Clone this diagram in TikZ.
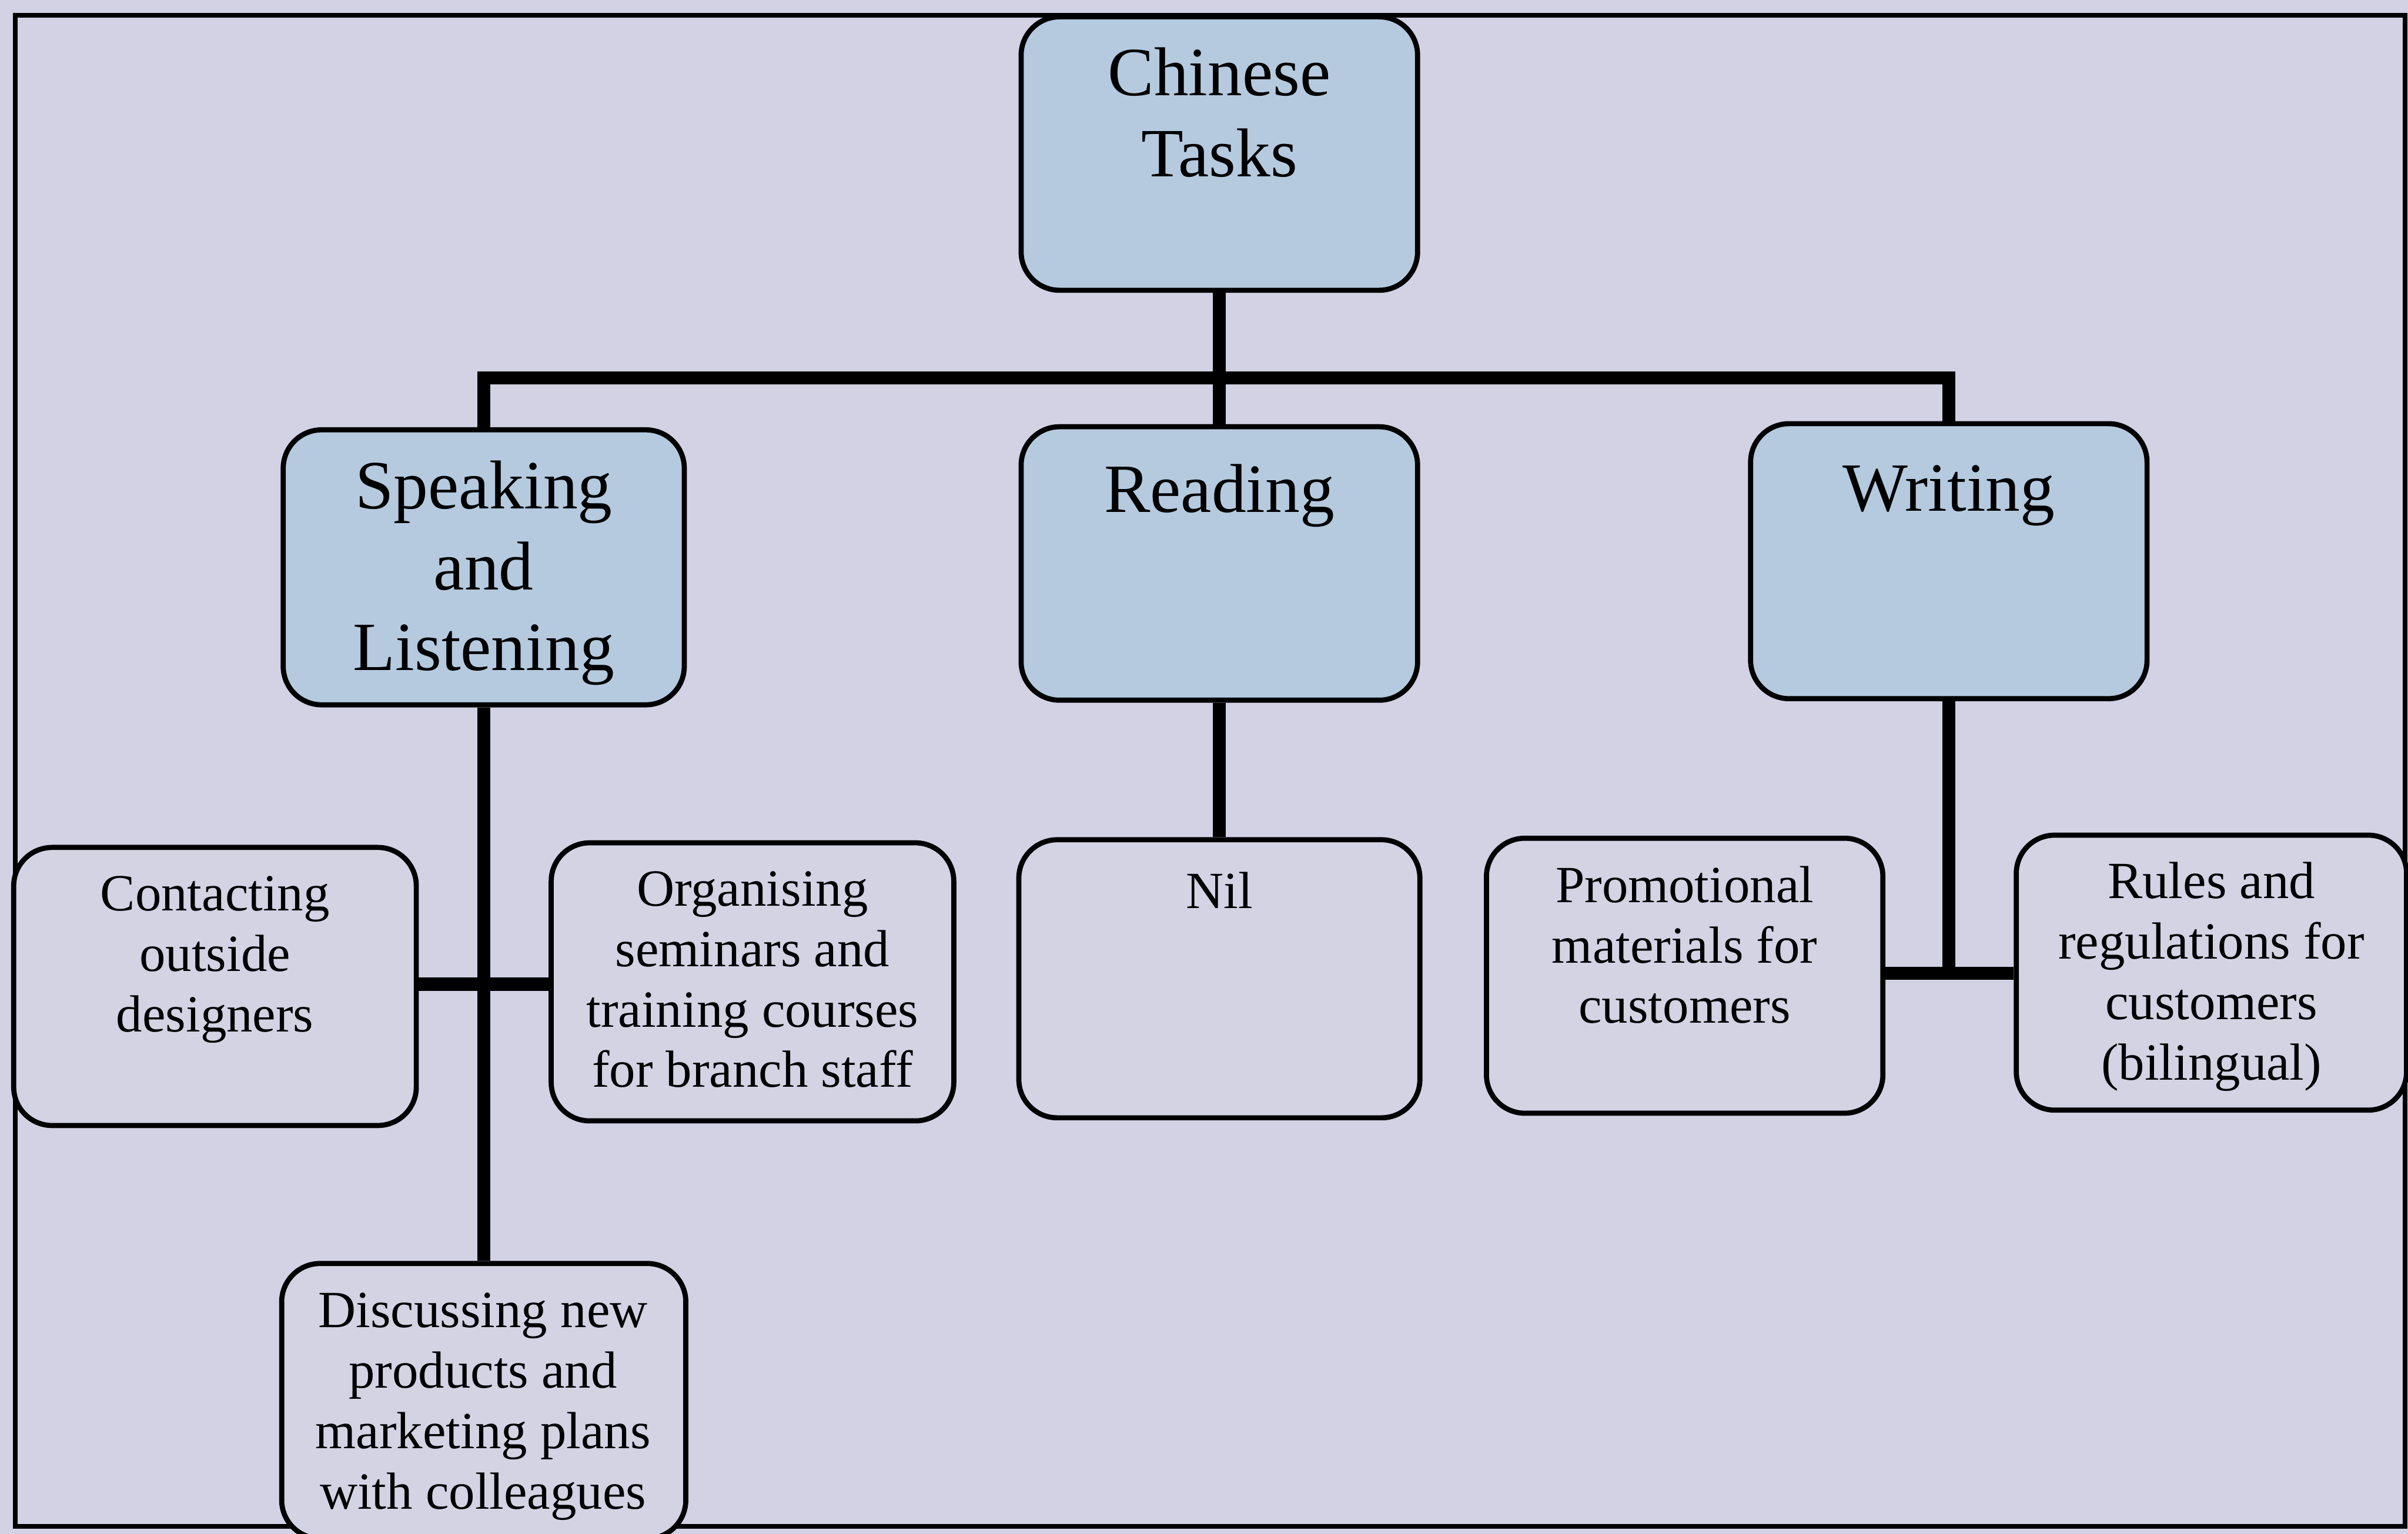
\documentclass[tikz,border=0pt]{standalone}
\usepackage{fontspec}
\setmainfont{Liberation Serif}
\definecolor{paper}{RGB}{210,210,228}
\definecolor{headfill}{RGB}{181,202,223}
\definecolor{leaffill}{RGB}{212,211,228}
\begin{document}
\begin{tikzpicture}[x=0.01cm, y=-0.01cm,
  basebox/.style={draw=black, line width=0.95pt, rounded corners=0.25cm, inner sep=0pt},
  headbox/.style={basebox, fill=headfill},
  leafbox/.style={basebox, fill=leaffill},
  headtext/.style={anchor=north, inner sep=0pt, align=center,
    font=\fontsize{12.8pt}{15pt}\selectfont,
    execute at begin node=\rule{0pt}{0.75em}},
  leaftext/.style={anchor=north, inner sep=0pt, align=center,
    font=\fontsize{9.67pt}{11.18pt}\selectfont,
    execute at begin node=\rule{0pt}{0.75em}},
  link/.style={line width=2.4pt}]

% page and outer frame
\useasboundingbox (0,0) rectangle (1568,999);
\clip (0,0) rectangle (1568,999);
\fill[paper] (0,0) rectangle (1568,999);
\draw[line width=0.85pt] (10,10) rectangle (1566,994);

% boxes
\node[headbox, minimum width=2.58cm, minimum height=1.78cm] (chinese)  at (794,100) {};
\node[headbox, minimum width=2.61cm, minimum height=1.79cm] (speak)    at (315,369.5) {};
\node[headbox, minimum width=2.58cm, minimum height=1.78cm] (read)     at (794,367) {};
\node[headbox, minimum width=2.58cm, minimum height=1.79cm] (write)    at (1269,365.5) {};
\node[leafbox, minimum width=2.62cm, minimum height=1.81cm] (contact)  at (140,642.5) {};
\node[leafbox, minimum width=2.62cm, minimum height=1.81cm] (organise) at (490,639.5) {};
\node[leafbox, minimum width=2.61cm, minimum height=1.81cm] (nil)      at (794,637.5) {};
\node[leafbox, minimum width=2.58cm, minimum height=1.79cm] (promo)    at (1097,635.5) {};
\node[leafbox, minimum width=2.54cm, minimum height=1.79cm] (rules)    at (1440,633.5) {};
\node[leafbox, minimum width=2.63cm, minimum height=1.79cm] (discuss)  at (315,912.5) {};

% box texts
\node[headtext] (chinesetxt)  at (794,30.3)    {Chinese\\Tasks};
\node[headtext] (speaktxt)    at (315,299.3)   {Speaking\\and\\Listening};
\node[headtext] (readtxt)     at (794,299.3)   {Reading};
\node[headtext] (writetxt)    at (1269,298.3)  {Writing};
\node[leaftext] (contacttxt)  at (140,570)     {Contacting\\outside\\designers};
\node[leaftext] (organisetxt) at (490,567)     {Organising\\seminars and\\training courses\\for branch staff};
\node[leaftext] (niltxt)      at (794,565.5)   {Nil};
\node[leaftext] (promotxt)    at (1097,563.5)  {Promotional\\materials for\\customers};
\node[leaftext] (rulestxt)    at (1440,561)    {Rules and\\regulations for\\customers\\(bilingual)};
\node[leaftext] (discusstxt)  at (314.5,841.5) {Discussing new\\products and\\marketing plans\\with colleagues};

% junction points
\coordinate (bus)   at (794,246);
\coordinate (sjunc) at (315,641);
\coordinate (wjunc) at (1269,634);

% connectors
\draw[link] (chinese.south) -- (bus);
\draw[link] (speak.north) -- (speak.north |- bus) -- (write.north |- bus) -- (write.north);
\draw[link] (bus) -- (read.north);
\draw[link] (speak.south) -- (discuss.north);
\draw[link] (contact.east |- sjunc) -- (organise.west |- sjunc);
\draw[link] (read.south) -- (nil.north);
\draw[link] (write.south) -- (wjunc);
\draw[link] (promo.east |- wjunc) -- (rules.west |- wjunc);
\end{tikzpicture}
\end{document}
